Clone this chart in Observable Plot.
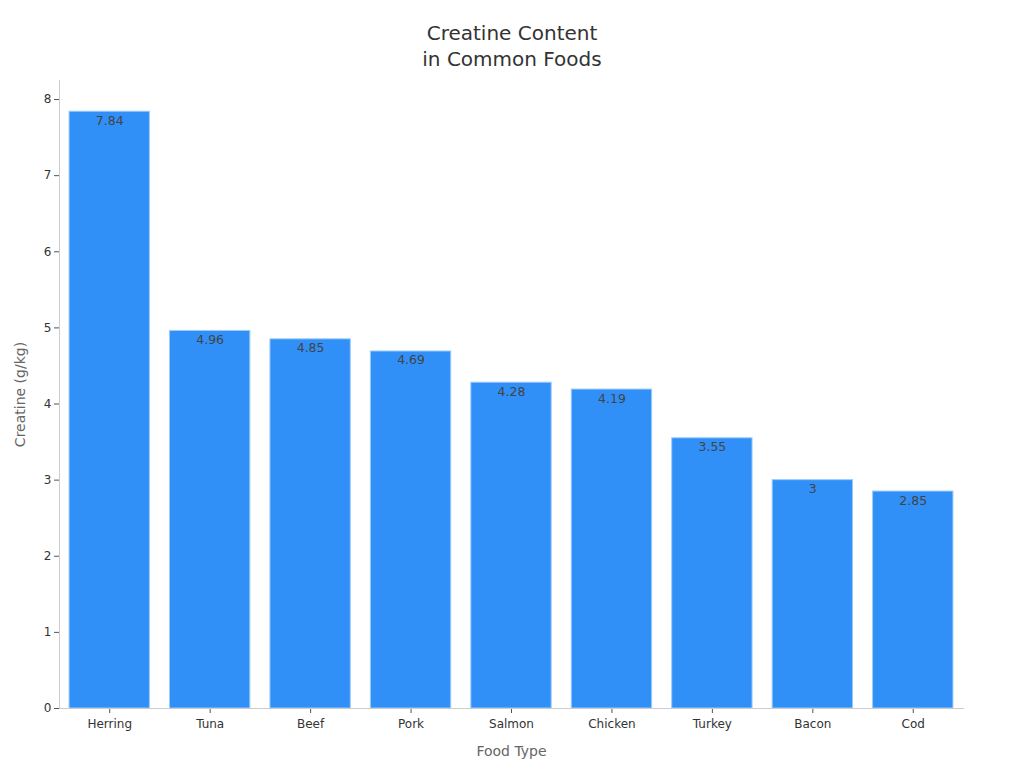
<!DOCTYPE html>
<html><head><meta charset="utf-8">
<script src="https://cdn.jsdelivr.net/npm/d3@7"></script>
<script src="https://cdn.jsdelivr.net/npm/@observablehq/plot@0.6"></script>
<style>
body{margin:0;background:#fff;font-family:"DejaVu Sans",sans-serif;}
#title{height:78px;box-sizing:border-box;padding-top:20px;text-align:center;font-size:20px;line-height:26px;color:#333;}
</style></head>
<body>
<div id="title">Creatine Content<br>in Common Foods</div>
<div id="chart"></div>
<script>
const foods = ["Herring","Tuna","Beef","Pork","Salmon","Chicken","Turkey","Bacon","Cod"];
const creatine = [7.84,4.96,4.85,4.69,4.28,4.19,3.55,3,2.85];
const yTicks = [0,1,2,3,4,5,6,7,8];
const data = foods.map((f,i)=>({food:f, value:creatine[i]}));

const chart = Plot.plot({
  width:1024, height:690,
  marginTop:2, marginBottom:60, marginLeft:59, marginRight:61,
  style:{fontFamily:"DejaVu Sans, sans-serif", fontSize:"12px", color:"#333", background:"#fff"},
  x:{domain:foods, paddingInner:0.2, paddingOuter:0.1, round:false, label:null},
  y:{domain:[0,8.25], label:null},
  marks:[
    Plot.barY(data,{x:"food", y:"value", fill:"#3090f8", stroke:"#9ccbfb", strokeWidth:1}),
    Plot.text(data,{x:"food", y:"value", text:d=>String(d.value), dy:9, fill:"#444", fontSize:12.5}),
    Plot.axisY({ticks:yTicks, tickSize:5, tickPadding:3, stroke:"#555", fill:"#333", fontSize:12, label:null}),
    Plot.axisX({tickSize:5, tickPadding:6, stroke:"#555", fill:"#333", fontSize:12, label:null}),
    Plot.frame({anchor:"left", stroke:"#ccc"}),
    Plot.frame({anchor:"bottom", stroke:"#ccc"}),
    Plot.text(["Creatine (g/kg)"],{frameAnchor:"left", textAnchor:"middle", dx:-39, rotate:-90, fill:"#666", fontSize:14}),
    Plot.text(["Food Type"],{frameAnchor:"bottom", dy:47, fill:"#666", fontSize:14})
  ]
});
document.getElementById("chart").appendChild(chart);
</script>
</body></html>
